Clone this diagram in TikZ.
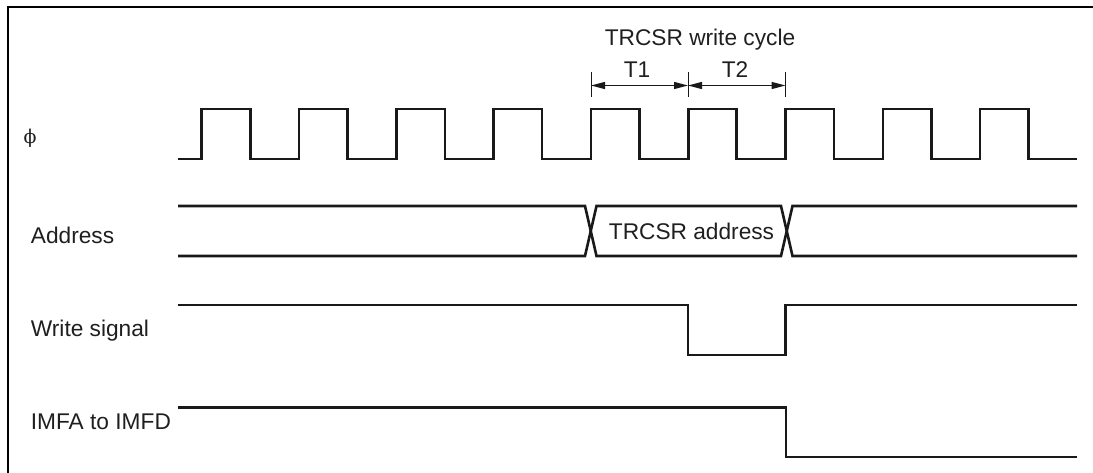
\documentclass[tikz,border=0pt]{standalone}
\usepackage{fontspec}
\setmainfont{Liberation Sans}
\newfontfamily\phifont{DejaVu Serif}
\usetikzlibrary{arrows.meta}
\begin{document}
\begin{tikzpicture}[x=1pt,y=-1pt,
  sig/.style={line width=2.6pt, line join=miter, black!90},
  lbl/.style={inner sep=0, anchor=base west, font=\fontsize{22.7}{27}\selectfont, text=black!88},
  ctr/.style={inner sep=0, anchor=base, font=\fontsize{22.7}{27}\selectfont, text=black!88},
  dimarrow/.style={line width=1.3pt, black!90, {Triangle[length=14pt,width=7pt]}-{Triangle[length=14pt,width=7pt]}},
  tickline/.style={line width=1pt, black!90}]
\useasboundingbox (0,0) rectangle (1093,473);
% frame
\draw[line width=2pt] (7.5,473) -- (7.5,7) -- (1093,7);
% labels
\node[inner sep=0, font=\fontsize{19}{22}\selectfont\phifont, text=black!88] (phi) at (30,138) {ϕ};
\node[lbl] (addr) at (30.7,243.3) {Address};
\node[lbl] (wr) at (30.7,337) {Write signal};
\node[lbl] (imf) at (30.7,429.3) {IMFA to IMFD};
% clock
\draw[sig] (178,159) \foreach \k in {0,...,8} { -- ({201.7+97.3*\k},159) -- ({201.7+97.3*\k},109) -- ({250.2+97.3*\k},109) -- ({250.2+97.3*\k},159) } -- (1077,159);
% address bus
\draw[sig] (178,206) -- (585,206) -- (596.5,256) -- (781,256) -- (792.5,206) -- (1077,206);
\draw[sig] (178,256) -- (585,256) -- (596.5,206) -- (781,206) -- (792.5,256) -- (1077,256);
\node[ctr] (trcsraddr) at (691.5,240) {TRCSR address};
% write signal
\draw[sig] (178,305) -- (688,305) -- (688,355) -- (785.5,355) -- (785.5,305) -- (1077,305);
% IMFA to IMFD
\draw[sig] (178,407.7) -- (786,407.7) -- (786,457) -- (1077,457);
% write cycle annotation
\node[ctr] (wc) at (700,46) {TRCSR write cycle};
\node[ctr] (t1) at (637,78) {T1};
\node[ctr] (t2) at (735,78) {T2};
\coordinate (a0) at (591,85.5);
\coordinate (a1) at (688,85.5);
\coordinate (a2) at (785.5,85.5);
\draw[tickline] (591,72) -- (591,97.5);
\draw[tickline] (688,72) -- (688,97.5);
\draw[tickline] (785.5,72) -- (785.5,97.5);
\draw[dimarrow] (a0) -- (a1);
\draw[dimarrow] (a1) -- (a2);
\end{tikzpicture}
\end{document}
